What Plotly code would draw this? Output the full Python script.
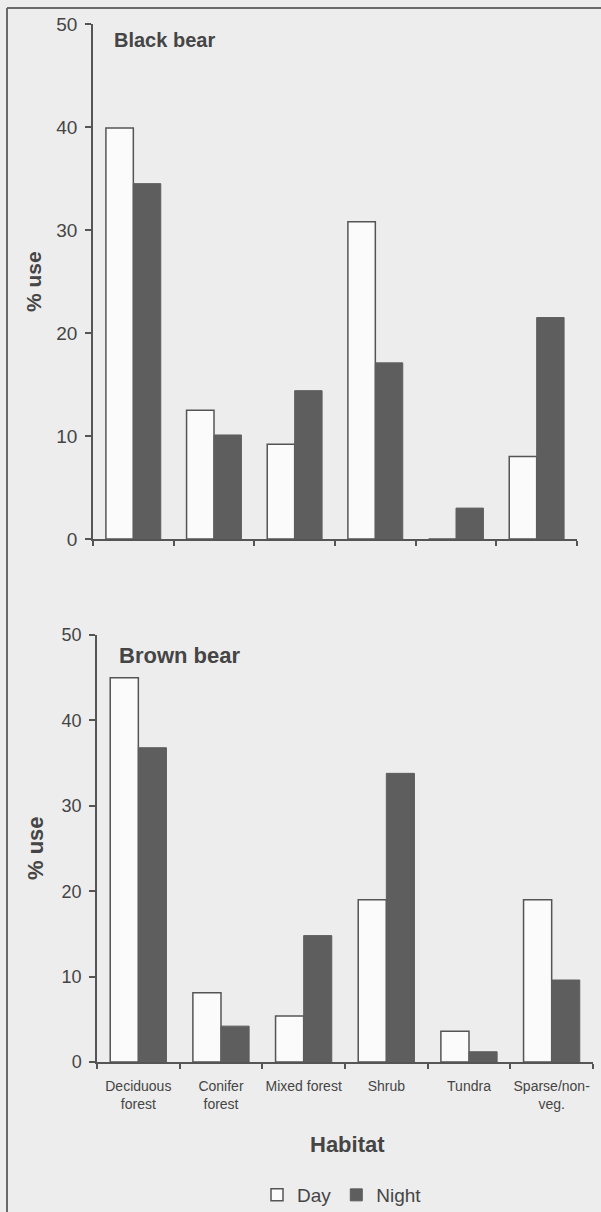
import plotly.graph_objects as go

categories = ["Deciduous<br>forest", "Conifer<br>forest", "Mixed forest", "Shrub", "Tundra", "Sparse/non-<br>veg."]
black_day = [39.9, 12.5, 9.2, 30.8, 0, 8.0]
black_night = [34.5, 10.1, 14.4, 17.1, 3.0, 21.5]
brown_day = [45.0, 8.1, 5.4, 19.0, 3.6, 19.0]
brown_night = [36.8, 4.2, 14.8, 33.8, 1.2, 9.6]
y_ticks = [0, 10, 20, 30, 40, 50]

W, H = 601, 1212
TXT = "#454545"
AX = "#555555"
NIGHT = "#5e5e5e"
DAYFILL = "#fbfbfb"
BG = "#ededed"
FONT = "Liberation Sans, Arial, sans-serif"

def px(x):
    return x / W

def py(y):
    return 1 - y / H

fig = go.Figure()

fig.add_trace(go.Bar(x=categories, y=black_day, name="Day", xaxis="x", yaxis="y",
                     marker=dict(color=DAYFILL, line=dict(color=AX, width=1.5)),
                     showlegend=False, legendgroup="day"))
fig.add_trace(go.Bar(x=categories, y=black_night, name="Night", xaxis="x", yaxis="y",
                     marker=dict(color=NIGHT, line=dict(color=NIGHT, width=1)),
                     showlegend=False, legendgroup="night"))
fig.add_trace(go.Bar(x=categories, y=brown_day, name="Day", xaxis="x2", yaxis="y2",
                     marker=dict(color=DAYFILL, line=dict(color=AX, width=1.5)),
                     showlegend=True, legendgroup="day"))
fig.add_trace(go.Bar(x=categories, y=brown_night, name="Night", xaxis="x2", yaxis="y2",
                     marker=dict(color=NIGHT, line=dict(color=NIGHT, width=1)),
                     showlegend=True, legendgroup="night"))

yax = dict(range=[0, 50], tickvals=y_ticks, showline=True, linecolor=AX, linewidth=1.5,
           ticks="outside", ticklen=6, tickcolor=AX, tickwidth=1.5, showgrid=False,
           zeroline=False, automargin=False, tickfont=dict(size=19, color=TXT, family=FONT),
           ticklabelstandoff=4)
xax = dict(type="category", showline=True, linecolor=AX, linewidth=1.5, ticks="outside",
           tickson="boundaries", ticklen=5, tickcolor=AX, tickwidth=1.5, showgrid=False,
           zeroline=False, automargin=False, tickangle=0,
           tickfont=dict(size=14, color=TXT, family=FONT))

fig.update_layout(
    template="none",
    width=W, height=H,
    margin=dict(l=0, r=0, t=0, b=0, autoexpand=False),
    paper_bgcolor=BG, plot_bgcolor=BG,
    barmode="group", bargap=0.32, bargroupgap=0,
    font=dict(family=FONT, color=TXT),
    xaxis=dict(xax, domain=[px(93), px(577)], anchor="y", showticklabels=False),
    yaxis=dict(yax, domain=[py(539), py(24)], anchor="x"),
    xaxis2=dict(xax, domain=[px(97), px(593)], anchor="y2", ticklabelstandoff=10),
    yaxis2=dict(yax, domain=[py(1062), py(635)], anchor="x2",
                tickfont=dict(size=18, color=TXT, family=FONT)),
    legend=dict(orientation="h", x=px(342), xanchor="center", y=py(1195), yanchor="middle",
                font=dict(size=19, color=TXT, family=FONT), bgcolor="rgba(0,0,0,0)",
                itemwidth=30, traceorder="normal", tracegroupgap=0),
    showlegend=True,
)

annotations = [
    dict(text="<b>Black bear</b>", x=px(112), y=py(40), xanchor="left", yanchor="middle",
         font=dict(size=20, color=TXT, family=FONT)),
    dict(text="<b>Brown bear</b>", x=px(117), y=py(655), xanchor="left", yanchor="middle",
         font=dict(size=22, color=TXT, family=FONT)),
    dict(text="<b>% use</b>", x=px(33), y=py(282), xanchor="center", yanchor="middle",
         textangle=-90, font=dict(size=21, color=TXT, family=FONT)),
    dict(text="<b>% use</b>", x=px(35), y=py(848), xanchor="center", yanchor="middle",
         textangle=-90, font=dict(size=22, color=TXT, family=FONT)),
    dict(text="<b>Habitat</b>", x=px(347), y=py(1144), xanchor="center", yanchor="middle",
         font=dict(size=22, color=TXT, family=FONT)),
]
for a in annotations:
    a.update(xref="paper", yref="paper", showarrow=False)
fig.update_layout(annotations=annotations)

fig.update_layout(shapes=[
    dict(type="line", xref="paper", yref="paper", x0=px(7), x1=1, y0=py(8), y1=py(8),
         line=dict(color="#6a6a6a", width=2)),
    dict(type="line", xref="paper", yref="paper", x0=px(7), x1=px(7), y0=py(8), y1=0,
         line=dict(color="#6a6a6a", width=2)),
])

fig.write_html("out.html")
